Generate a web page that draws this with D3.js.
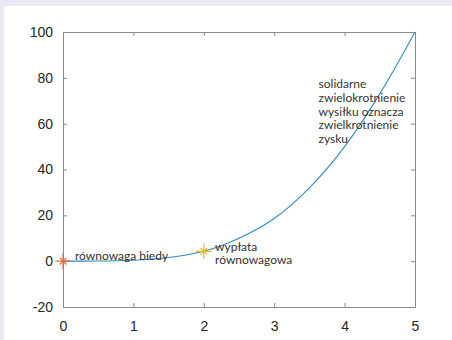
<!DOCTYPE html>
<html>
<head>
<meta charset="utf-8">
<style>
  html, body { margin: 0; padding: 0; background: #e9e9f3; }
  #chart { position: absolute; left: 4px; top: 6px; width: 448px; height: 334px; background: #fff; }
  svg { position: absolute; left: 0; top: 0; }
</style>
</head>
<body>
<div id="chart"></div>
<script src="https://d3js.org/d3.v7.min.js"></script>
<script>
// values
const xValues = [0, 0.5, 1, 1.5, 2, 2.5, 3, 3.5, 4, 4.5, 5];
const yValues = [0, 0.05, 0.4, 1.6, 4.3, 10, 18.6, 32, 50, 73, 100];
const xTicks = [0, 1, 2, 3, 4, 5];
const yTicks = [-20, 0, 20, 40, 60, 80, 100];
const markers = [
  {x: 0, y: 0, color: '#e0703c'},
  {x: 2, y: 4.3, color: '#f0b62a'}
];
const notes = [
  {x: 0.17, y: 0.5, lines: ['równowaga biedy']},
  {x: 2.16, y: 4.6, lines: ['wypłata', 'równowagowa']},
  {x: 3.63, y: 75.5, lines: ['solidarne', 'zwielokrotnienie', 'wysiłku oznacza', 'zwielkrotnienie', 'zysku']}
];

const width = 452, height = 340;
const mLeft = 63, mRight = 415, mTop = 32, mBottom = 307;

const svg = d3.select('body').append('svg')
  .attr('width', width)
  .attr('height', height);

const x = d3.scaleLinear().domain([0, 5]).range([mLeft, mRight]);
const y = d3.scaleLinear().domain([-20, 100]).range([mBottom, mTop]);

const axisColor = '#8a8a8a';
const styleAxis = g => {
  g.select('.domain').remove();
  g.selectAll('.tick line').attr('stroke', axisColor);
  g.selectAll('.tick text')
    .attr('fill', '#262626')
    .style('font-family', '"Liberation Sans", Arial, sans-serif')
    .style('font-size', '14px');
};
const fmt = d => String(d);

svg.append('g')
  .attr('transform', `translate(${mLeft},0)`)
  .call(d3.axisLeft(y).tickValues(yTicks).tickFormat(fmt).tickSizeInner(-4).tickSizeOuter(0).tickPadding(10))
  .call(styleAxis);

svg.append('g')
  .attr('transform', `translate(${mRight},0)`)
  .call(d3.axisRight(y).tickValues(yTicks).tickSizeInner(-4).tickSizeOuter(0).tickFormat(''))
  .call(styleAxis);

svg.append('g')
  .attr('transform', `translate(0,${mBottom})`)
  .call(d3.axisBottom(x).tickValues(xTicks).tickFormat(fmt).tickSizeInner(-4).tickSizeOuter(0).tickPadding(14))
  .call(styleAxis);

svg.append('g')
  .attr('transform', `translate(0,${mTop})`)
  .call(d3.axisTop(x).tickValues(xTicks).tickSizeInner(-4).tickSizeOuter(0).tickFormat(''))
  .call(styleAxis);

svg.append('rect')
  .attr('x', mLeft + 0.5)
  .attr('y', mTop + 0.5)
  .attr('width', mRight - mLeft)
  .attr('height', mBottom - mTop)
  .attr('fill', 'none')
  .attr('stroke', axisColor)
  .attr('stroke-width', 1);

const line = d3.line()
  .x((d, i) => x(xValues[i]))
  .y(d => y(d))
  .curve(d3.curveMonotoneX);

svg.append('path')
  .datum(yValues)
  .attr('d', line)
  .attr('fill', 'none')
  .attr('stroke', '#2f8bbd')
  .attr('stroke-width', 1.1);

const plus = d3.symbol().type(d3.symbolPlus).size(80);
const times = d3.symbol().type(d3.symbolTimes).size(30);

const mk = svg.selectAll('.marker')
  .data(markers)
  .join('g')
  .attr('class', 'marker')
  .attr('transform', d => `translate(${x(d.x)},${y(d.y)})`);

mk.append('path').attr('d', plus).attr('fill', 'none').attr('stroke', d => d.color).attr('stroke-width', 1.2);
mk.append('path').attr('d', times).attr('fill', 'none').attr('stroke', d => d.color).attr('stroke-width', 1.2);

const txt = svg.selectAll('.note')
  .data(notes)
  .join('text')
  .attr('class', 'note')
  .attr('x', d => x(d.x))
  .attr('y', d => y(d.y))
  .attr('fill', '#333')
  .style('font-family', 'Lato, "Open Sans", sans-serif')
  .style('font-size', '12px');

txt.selectAll('tspan')
  .data(d => d.lines.map((l, i) => ({l, i, x: x(d.x)})))
  .join('tspan')
  .attr('x', d => d.x)
  .attr('dy', d => d.i === 0 ? '0' : '13.7px')
  .text(d => d.l);
</script>
</body>
</html>
